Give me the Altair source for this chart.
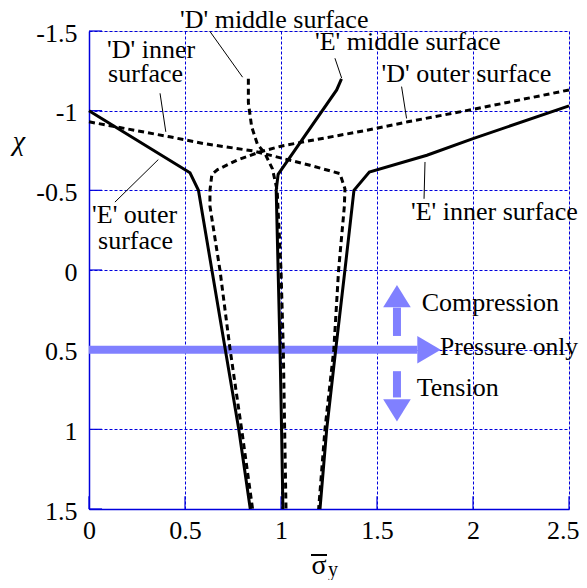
import altair as alt
import pandas as pd

# ---- curve data (sigma_y, chi) ----
E_outer_x = [0.0, 0.526, 0.57, 0.64, 0.71, 0.78, 0.84]
E_outer_y = [-1.0, -0.61, -0.5, 0.0, 0.5, 1.0, 1.5]

E_middle_x = [1.315, 1.29, 0.985, 0.975, 0.995, 1.003, 1.01]
E_middle_y = [-1.2, -1.13, -0.6, -0.5, 0.5, 1.0, 1.5]

E_inner_x = [2.5, 2.0, 1.76, 1.46, 1.38, 1.333, 1.285, 1.238, 1.203]
E_inner_y = [-1.03, -0.825, -0.72, -0.615, -0.5, 0.0, 0.5, 1.0, 1.5]

D_outer_x = [2.5, 2.0, 1.66, 1.43, 1.12, 1.0, 0.89, 0.77, 0.67, 0.64, 0.63, 0.63, 0.682, 0.735, 0.795, 0.852]
D_outer_y = [-1.13, -1.008, -0.93, -0.873, -0.805, -0.777, -0.741, -0.689, -0.63, -0.6, -0.5, -0.4, 0.0, 0.5, 1.0, 1.5]

D_inner_x = [0.0, 0.42, 0.595, 0.856, 0.977, 1.151, 1.307, 1.333, 1.33, 1.30, 1.275, 1.229, 1.196]
D_inner_y = [-0.93, -0.836, -0.794, -0.747, -0.71, -0.657, -0.605, -0.51, -0.4, 0.0, 0.5, 1.0, 1.5]

D_middle_x = [0.83, 0.83, 0.847, 0.877, 0.917, 0.955, 0.98, 1.0, 1.012, 1.026]
D_middle_y = [-1.2, -1.05, -0.9, -0.79, -0.73, -0.636, -0.5, 0.0, 0.5, 1.5]

# ---- tick values ----
x_ticks = [0, 0.5, 1, 1.5, 2, 2.5]
y_ticks = [-1.5, -1, -0.5, 0, 0.5, 1, 1.5]

# ---- annotation labels ----
label_text = ["'D' middle surface", "'D' inner", "surface", "'E' middle surface",
              "'D' outer surface", "'E' inner surface", "'E' outer", "surface",
              "Compression", "Pressure only", "Tension"]
label_x = [0.474, 0.094, 0.099, 1.177, 1.524, 1.677, 0.016, 0.047, 1.733, 1.828, 1.707]
label_y = [-1.52, -1.333, -1.18, -1.382, -1.18, -0.311, -0.292, -0.134, 0.256, 0.534, 0.792]
label_size = [26, 26, 26, 26, 26, 26, 26, 26, 26, 25.5, 26]

# ---- leader lines ----
lead_x1 = [0.63, 0.37, 0.135, 1.281, 1.628, 1.75]
lead_y1 = [-1.497, -1.109, -0.426, -1.329, -1.151, -0.678]
lead_x2 = [0.80, 0.40, 0.361, 1.316, 1.654, 1.745]
lead_y2 = [-1.21, -0.867, -0.693, -1.204, -0.951, -0.447]

# ---- arrows (shafts and heads) ----
shaft_x1 = [0.0, 1.604, 1.604]
shaft_x2 = [1.71, 1.604, 1.604]
shaft_y1 = [0.5, 0.236, 0.635]
shaft_y2 = [0.5, 0.414, 0.80]
head_x = [1.771, 1.604, 1.604]
head_y = [0.5, 0.164, 0.881]
head_dir = ["right", "up", "down"]

W, H = 480, 478
FONT = "'Liberation Serif', 'DejaVu Serif', serif"
BLUE = "#0000DD"
ARROW = "#8080FF"

xscale = alt.Scale(domain=[0, 2.5], nice=False, zero=False)
yscale = alt.Scale(domain=[-1.5, 1.5], nice=False, zero=False, reverse=True)

xaxis = alt.Axis(values=x_ticks, title=None, grid=True, gridColor=BLUE, gridDash=[3, 2],
                 gridWidth=1, domainColor=BLUE, domainWidth=1.5, ticks=False,
                 labelFont=FONT, labelFontSize=26, labelColor="black", labelPadding=8,
                 labelExpr="toString(datum.value)", labelFlush=False,
                 labelAlign={"condition": {"test": "datum.value == 2.5", "value": "right"},
                             "value": "center"},
                 labelOffset={"condition": {"test": "datum.value == 2.5", "value": 10},
                              "value": 0})
yaxis = alt.Axis(values=y_ticks, title=None, grid=True, gridColor=BLUE, gridDash=[3, 2],
                 gridWidth=1, domainColor=BLUE, domainWidth=1.5, ticks=False,
                 labelFont=FONT, labelFontSize=26, labelColor="black", labelPadding=12,
                 labelExpr="toString(datum.value)", labelFlush=False, labelOffset=2)


def X(field):
    return alt.X(field, type="quantitative", scale=xscale, axis=xaxis)


def Y(field):
    return alt.Y(field, type="quantitative", scale=yscale, axis=yaxis)


def curve_df(name, xs, ys):
    return pd.DataFrame({"curve": name, "x": xs, "y": ys, "i": range(len(xs))})


solid_df = pd.concat([curve_df("E outer", E_outer_x, E_outer_y),
                      curve_df("E middle", E_middle_x, E_middle_y),
                      curve_df("E inner", E_inner_x, E_inner_y)])
dashed_df = pd.concat([curve_df("D outer", D_outer_x, D_outer_y),
                       curve_df("D inner", D_inner_x, D_inner_y),
                       curve_df("D middle", D_middle_x, D_middle_y)])

# inward ticks
left_ticks = pd.DataFrame({"x": 0.0, "x2": 0.068, "y": y_ticks})
bottom_ticks = pd.DataFrame({"x": x_ticks, "y": 1.5, "y2": 1.42})

base_tick_l = alt.Chart(left_ticks).mark_rule(color=BLUE, strokeWidth=1.2).encode(
    x=X("x"), x2="x2", y=Y("y"))
base_tick_b = alt.Chart(bottom_ticks).mark_rule(color=BLUE, strokeWidth=1.2).encode(
    x=X("x"), y=Y("y"), y2="y2")

shafts = alt.Chart(pd.DataFrame({"x": shaft_x1, "x2": shaft_x2, "y": shaft_y1, "y2": shaft_y2})
                   ).mark_rule(color=ARROW, strokeWidth=8).encode(
    x=X("x"), x2="x2", y=Y("y"), y2="y2")

heads_df = pd.DataFrame({"x": head_x, "y": head_y, "dir": head_dir})
head_paths = {
    "right": "M-0.85,-1L0.85,0L-0.85,1Z",
    "up": "M-1,0.8L0,-0.8L1,0.8Z",
    "down": "M-1,-0.8L0,0.8L1,-0.8Z",
}
heads = alt.layer(*[
    alt.Chart(heads_df[heads_df["dir"] == d]).mark_point(
        shape=p, size=760, filled=True, color=ARROW, opacity=1, strokeWidth=0).encode(
        x=X("x"), y=Y("y"))
    for d, p in head_paths.items()
])

solid = alt.Chart(solid_df).mark_line(color="black", strokeWidth=3).encode(
    x=X("x"), y=Y("y"), detail="curve:N", order="i:Q")
dashed = alt.Chart(dashed_df).mark_line(color="black", strokeWidth=3, strokeDash=[6, 4]).encode(
    x=X("x"), y=Y("y"), detail="curve:N", order="i:Q")

leaders = alt.Chart(pd.DataFrame({"x": lead_x1, "y": lead_y1, "x2": lead_x2, "y2": lead_y2})
                    ).mark_rule(color="black", strokeWidth=1).encode(
    x=X("x"), y=Y("y"), x2="x2", y2="y2")

labels = alt.Chart(pd.DataFrame({"t": label_text, "x": label_x, "y": label_y,
                                 "s": label_size})).mark_text(
    font=FONT, color="black", align="left", baseline="alphabetic").encode(
    x=X("x"), y=Y("y"), text="t:N", size=alt.Size("s:Q", scale=None, legend=None))

one = alt.Data(values=[{"a": 1}])
chi = alt.Chart(one).mark_text(font=FONT, fontSize=28, fontStyle="italic", text="χ",
                               align="center", baseline="alphabetic").encode(
    x=alt.value(-70), y=alt.value(119))
sigma = alt.Chart(one).mark_text(font=FONT, fontSize=28, text="σ", align="center",
                                 baseline="alphabetic").encode(
    x=alt.value(230), y=alt.value(543))
sub_y = alt.Chart(one).mark_text(font=FONT, fontSize=20, text="y", align="left",
                                 baseline="alphabetic").encode(
    x=alt.value(239), y=alt.value(545))
overline = alt.Chart(one).mark_rule(color="black", strokeWidth=2).encode(
    x=alt.value(222), x2=alt.value(238), y=alt.value(524))

chart = alt.layer(base_tick_l, base_tick_b, shafts, heads, solid, dashed, leaders, labels,
                  chi, sigma, sub_y, overline).properties(
    width=W, height=H,
    autosize=alt.AutoSizeParams(type="none"),
    padding={"left": 81, "top": 23, "right": 10, "bottom": 71},
).configure_view(stroke=None).configure(background="white")

chart.save("out.html", embed_options={"renderer": "svg", "actions": False})
